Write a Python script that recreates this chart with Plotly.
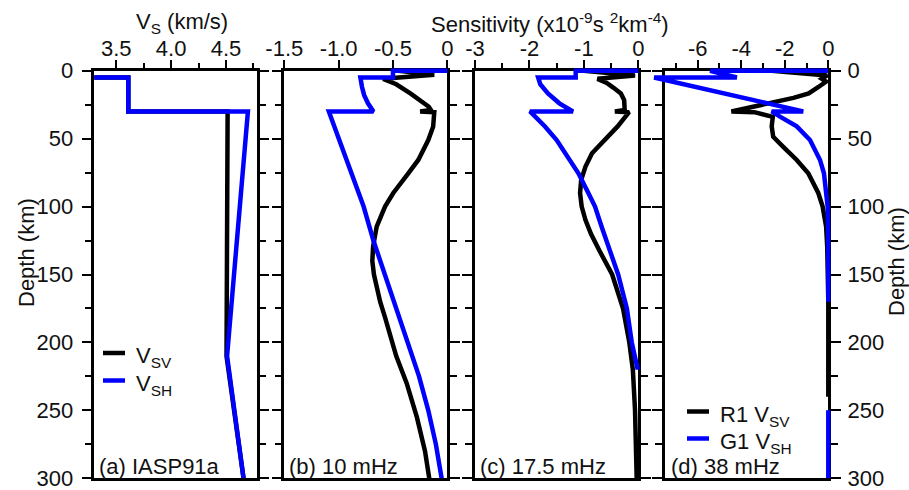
import plotly.graph_objects as go

# ---------------- data ----------------
# (a) reference velocity model IASP91a, depth in km, Vs in km/s
a_depth = [0, 5, 5, 30, 30, 210, 300]
a_vsv = [3.20, 3.20, 3.61, 3.61, 4.515, 4.505, 4.66]
a_vsh = [3.20, 3.20, 3.61, 3.61, 4.70, 4.51, 4.66]

# (b) 10 mHz sensitivity kernels (x1e-9 s^2 km^-4)
b_sv_depth = [0, 3, 6, 10, 16.7, 22, 26.5, 29, 30, 30.5, 41, 51, 65.7, 75.5, 90, 100,
              114.8, 129.5, 140, 150, 160, 170, 181, 195, 210, 230, 255, 280, 300]
b_sv = [-0.45, -0.12, -0.59, -0.47, -0.34, -0.24, -0.17, -0.15, -0.25, -0.12, -0.13, -0.175,
        -0.267, -0.359, -0.497, -0.573, -0.650, -0.683, -0.690, -0.675, -0.650, -0.618,
        -0.575, -0.525, -0.47, -0.374, -0.28, -0.205, -0.166]
b_sh_depth = [0, 0, 5, 5, 12, 18, 24, 30, 30, 41, 51, 75.5, 100, 125, 150, 175, 200, 225,
              250, 275, 300]
b_sh = [0, -0.50, -0.50, -0.80, -0.785, -0.765, -0.73, -0.68, -1.09, -1.04, -0.997, -0.886,
        -0.77, -0.68, -0.575, -0.46, -0.355, -0.26, -0.175, -0.105, -0.052]

# (c) 17.5 mHz
c_sv_depth = [0, 3.5, 6, 9, 12.4, 16.7, 21.6, 26.5, 29, 30, 30.5, 41, 51, 60.8, 70.6, 80.4,
              90, 100, 110, 120, 132, 150, 175, 200, 220, 250, 300]
c_sv = [-1.0, -0.06, -0.75, -0.58, -0.46, -0.32, -0.26, -0.24, -0.25, -0.43, -0.17, -0.38,
        -0.63, -0.85, -0.97, -1.05, -1.07, -1.04, -0.97, -0.87, -0.72, -0.48, -0.28, -0.165,
        -0.10, -0.06, -0.03]
c_sh_depth = [0, 0, 5, 5, 10, 16.7, 24, 30, 30, 41, 51, 60.8, 75.5, 90, 100, 115, 132, 150,
              175, 200, 220]
c_sh = [0, -1.15, -1.15, -1.84, -1.80, -1.66, -1.45, -1.20, -1.99, -1.714, -1.50, -1.347,
        -1.10, -0.918, -0.795, -0.672, -0.52, -0.37, -0.21, -0.12, -0.01]

# (d) 38 mHz
d_sv_depth = [0, 3.5, 6, 8, 12, 16.7, 20, 24, 28, 30, 30.5, 34, 41, 48.6, 56, 65.7, 75.5,
              90, 100, 114.8, 129.5, 150, 170, 240]
d_sv = [-2.6, -0.05, -0.3, -0.1, -0.45, -0.9, -1.6, -2.7, -3.8, -4.45, -3.4, -2.55, -2.6,
        -2.53, -2.07, -1.45, -0.92, -0.46, -0.26, -0.10, -0.05, -0.01, 0, 0]
d_sh_depth = [0, 0, 5, 5, 30, 30, 34, 41, 51, 65.7, 75.5, 90, 100, 120, 170, None, 250, 300]
d_sh = [0, -5.43, -4.2, -8.0, -1.15, -2.6, -2.2, -1.45, -0.84, -0.38, -0.2, -0.07, -0.03,
        -0.005, 0, None, 0, 0]

# axis ticks
depth_ticks = [0, 50, 100, 150, 200, 250, 300]
a_ticks, a_labels, a_minor = [3.5, 4.0, 4.5], ["3.5", "4.0", "4.5"], [3.75, 4.25, 4.75]
b_ticks, b_labels, b_minor = [-1.5, -1.0, -0.5, 0], ["-1.5", "-1.0", "-0.5", "0"], []
c_ticks, c_labels, c_minor = [-3, -2, -1, 0], ["-3", "-2", "-1", "0"], [-2.5, -1.5, -0.5]
d_ticks, d_labels, d_minor = [-6, -4, -2, 0], ["-6", "-4", "-2", "0"], [-7, -5, -3, -1]

# legend entries
a_names = ["V<sub>SV</sub>", "V<sub>SH</sub>"]
d_names = ["R1 V<sub>SV</sub>", "G1 V<sub>SH</sub>"]

# ---------------- layout geometry (pixels) ----------------
W, H = 909, 490
TOP, BOT = 70.7, 478.3
FONT = "Liberation Sans, Arial, sans-serif"
TXT = "#111111"
BLUE = "#0000ff"
LW = 4.5
FRAME = 2.5

panels = [
    # left px, right px, x range, ticks, labels, minor, extra pad left/right for data
    (94.3, 256.7, [3.3, 4.78], a_ticks, a_labels, a_minor, 0, 0),
    (284.3, 447.3, [-1.5, 0], b_ticks, b_labels, b_minor, 0, 6),
    (475.0, 638.3, [-3, 0], c_ticks, c_labels, c_minor, 0, 6),
    (665.0, 828.3, [-7.5, 0], d_ticks, d_labels, d_minor, 22, 6),
]

fig = go.Figure()
layout = dict(
    template="none",
    width=W, height=H, margin=dict(l=0, r=0, t=0, b=0, autoexpand=False),
    paper_bgcolor="white", plot_bgcolor="rgba(0,0,0,0)",
    font=dict(family=FONT, size=22, color=TXT),
    showlegend=False,
)

ydom = [1 - BOT / H, 1 - TOP / H]
ypad_top = 6
ky = 300.0 / (BOT - TOP)  # km per pixel

for i, (l, r, rng, tv, tt, mv, pl, pr) in enumerate(panels):
    n = i + 1
    s = "" if n == 1 else str(n)
    # visible frame axes
    layout["xaxis" + s] = dict(
        domain=[l / W, r / W], range=rng, anchor="y" + s, side="top", automargin=False,
        showline=True, mirror=True, linecolor="black", linewidth=FRAME,
        ticks="outside", ticklen=8, tickwidth=2, tickcolor="black",
        tickmode="array", tickvals=tv, ticktext=tt, ticklabeloverflow="allow",
        ticklabelstandoff=-5,
        tickfont=dict(size=22, color=TXT, family=FONT),
        showgrid=False, zeroline=False,
        minor=dict(ticks="outside" if mv else "", ticklen=5, tickwidth=2,
                   tickcolor="black", tickmode="array", tickvals=mv, showgrid=False),
    )
    layout["yaxis" + s] = dict(
        domain=ydom, range=[300, 0], anchor="x" + s, automargin=False,
        side="right" if n == 4 else "left",
        showline=True, mirror="ticks", linecolor="black", linewidth=FRAME,
        ticks="outside", ticklen=10, tickwidth=2, tickcolor="black",
        tickmode="array", tickvals=depth_ticks, ticklabeloverflow="allow",
        ticklabelstandoff=4 if n == 1 else 2,
        showticklabels=(n in (1, 4)),
        tickfont=dict(size=22, color=TXT, family=FONT),
        showgrid=False, zeroline=False,
        minor=dict(ticks="outside", ticklen=7, tickwidth=2, tickcolor="black",
                   dtick=25, showgrid=False),
    )
    # hidden data axes, same scale, slightly larger so curves on the frame are not cut
    kx = (rng[1] - rng[0]) / (r - l)
    m = str(n + 4)
    layout["xaxis" + m] = dict(
        domain=[(l - pl) / W, (r + pr) / W],
        range=[rng[0] - pl * kx, rng[1] + pr * kx],
        anchor="y" + m, visible=False, automargin=False,
    )
    layout["yaxis" + m] = dict(
        domain=[ydom[0], 1 - (TOP - ypad_top) / H],
        range=[300, -ypad_top * ky], anchor="x" + m, visible=False, automargin=False,
    )

# empty traces so every frame subplot is laid out
for n in range(1, 5):
    s = "" if n == 1 else str(n)
    fig.add_trace(go.Scatter(x=[None], y=[None], xaxis="x" + s, yaxis="y" + s,
                             hoverinfo="skip"))

series = [
    (5, a_depth, a_vsv, a_depth, a_vsh),
    (6, b_sv_depth, b_sv, b_sh_depth, b_sh),
    (7, c_sv_depth, c_sv, c_sh_depth, c_sh),
    (8, d_sv_depth, d_sv, d_sh_depth, d_sh),
]
for m, dsv, vsv, dsh, vsh in series:
    for dep, val, col in ((dsv, vsv, "black"), (dsh, vsh, BLUE)):
        fig.add_trace(go.Scatter(
            x=val, y=dep, xaxis="x" + str(m), yaxis="y" + str(m), mode="lines",
            line=dict(color=col, width=LW), connectgaps=False, hoverinfo="skip",
        ))

ann, shapes = [], []
def label(text, x, y, xanchor="left", angle=0, yanchor="middle"):
    ann.append(dict(text=text, x=x / W, y=1 - y / H, xref="paper", yref="paper",
                    xanchor=xanchor, yanchor=yanchor, showarrow=False, textangle=angle,
                    font=dict(size=22, color=TXT, family=FONT)))

def legend_key(names, x0, y0, dy):
    for k, (name, col) in enumerate(zip(names, ["black", BLUE])):
        y = y0 + k * dy
        shapes.append(dict(type="line", xref="paper", yref="paper",
                           x0=x0 / W, x1=(x0 + 22) / W, y0=1 - y / H, y1=1 - y / H,
                           line=dict(color=col, width=LW)))
        label(name, x0 + 31, y + 4)

legend_key(a_names, 103, 353, 27.5)
legend_key(d_names, 687, 411.5, 27)

label("V<sub>S</sub> (km/s)", 182, 23, "center")
label("Sensitivity (x10<sup>-9</sup>s <sup>2</sup>km<sup>-4</sup>)", 550, 23, "center")
label("Depth (km)", 26, 253, "center", -90)
label("Depth (km)", 896, 262, "center", -90)
label("(a) IASP91a", 97, 466)
label("(b) 10 mHz", 287, 466)
label("(c) 17.5 mHz", 478, 466)
label("(d) 38 mHz", 669, 466)
layout["annotations"] = ann
layout["shapes"] = shapes

fig.update_layout(**layout)
fig.write_html("out.html")
